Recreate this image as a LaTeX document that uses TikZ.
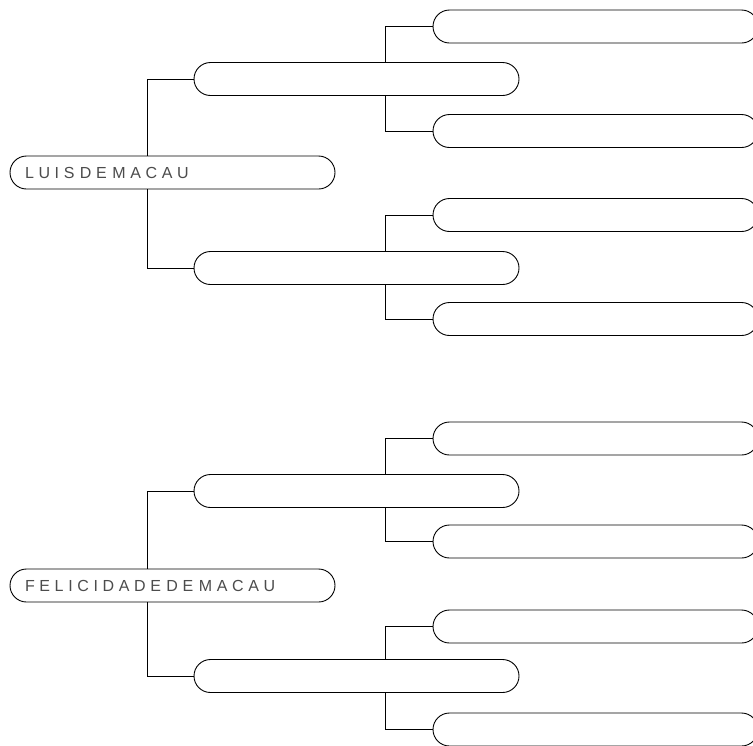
\documentclass[tikz,border=0pt]{standalone}
\usepackage{fontspec}
\setmainfont{Liberation Sans}
\newfontfamily\spacedfont[LetterSpace=29]{Liberation Sans}
\newcommand\pillfont{\spacedfont\fontsize{16}{18}\selectfont}
\newcommand\wgap{\hspace{5.5pt}}
\usepackage{tikz}
\tikzset{
pill/.style={rectangle, draw=black, line width=0.9pt, fill=white, rounded corners=16.5pt, minimum height=33pt, inner xsep=15pt, inner ysep=0pt, text width=295pt, align=left, font=\pillfont, text=black!70},
link/.style={draw=black, line width=0.8pt},
}

\begin{document}
\begin{tikzpicture}[x=1pt, y=-1pt]
%% pixel grid of the page, y runs downwards; right column is cut at the edge
\useasboundingbox (0,0) rectangle (753,745);
\clip (0,0) rectangle (753,745);

%% ---- Luis ----
\begin{scope}
  \node[pill] (luis)   at (172.5,172.5) {LUIS\wgap DE\wgap MACAU};
  \node[pill] (luisA)  at (356.5,79)    {};
  \node[pill] (luisB)  at (356.5,268)   {};
  \node[pill] (luisAA) at (595.5,26.5)  {};
  \node[pill] (luisAB) at (595.5,131)   {};
  \node[pill] (luisBA) at (595.5,215)   {};
  \node[pill] (luisBB) at (595.5,319)   {};
  \coordinate (luisJ)  at (147,0);
  \coordinate (luisAJ) at (385,0);
  \draw[link] (luisA.west) -| (luisJ |- luis.north);
  \draw[link] (luisB.west) -| (luisJ |- luis.south);
  \draw[link] (luisAA.west) -| (luisAJ |- luisA.north);
  \draw[link] (luisAB.west) -| (luisAJ |- luisA.south);
  \draw[link] (luisBA.west) -| (luisAJ |- luisB.north);
  \draw[link] (luisBB.west) -| (luisAJ |- luisB.south);
\end{scope}

%% ---- Felicidade ----
\begin{scope}[shift={(0,411)}]
  \node[pill] (feli)   at (172.5,174.5) {FELICIDADE\wgap DE\wgap MACAU};
  \node[pill] (feliA)  at (356.5,80)    {};
  \node[pill] (feliB)  at (356.5,265)   {};
  \node[pill] (feliAA) at (595.5,27.5)  {};
  \node[pill] (feliAB) at (595.5,130.5) {};
  \node[pill] (feliBA) at (595.5,215.5) {};
  \node[pill] (feliBB) at (595.5,318.5) {};
  \coordinate (feliJ)  at (147,0);
  \coordinate (feliAJ) at (385,0);
  \draw[link] (feliA.west) -| (feliJ |- feli.north);
  \draw[link] (feliB.west) -| (feliJ |- feli.south);
  \draw[link] (feliAA.west) -| (feliAJ |- feliA.north);
  \draw[link] (feliAB.west) -| (feliAJ |- feliA.south);
  \draw[link] (feliBA.west) -| (feliAJ |- feliB.north);
  \draw[link] (feliBB.west) -| (feliAJ |- feliB.south);
\end{scope}
\end{tikzpicture}
\end{document}
